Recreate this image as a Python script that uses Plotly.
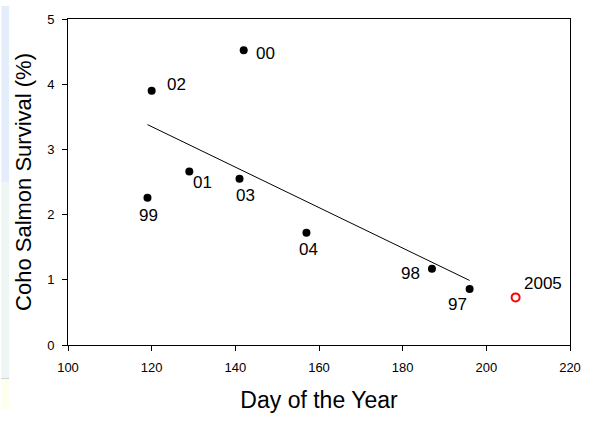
import plotly.graph_objects as go

# Data
labels = ["97", "98", "99", "00", "01", "02", "03", "04"]
day = [196, 187, 119, 142, 129, 120, 141, 157]
survival = [0.86, 1.17, 2.26, 4.52, 2.66, 3.90, 2.55, 1.72]

new_label = ["2005"]
new_day = [207]
new_survival = [0.73]

fit_day = [119, 196]
fit_survival = [3.38, 0.99]

x_ticks = [100, 120, 140, 160, 180, 200, 220]
y_ticks = [0, 1, 2, 3, 4, 5]

# label offsets in pixels (style)
label_shift = {
    "97": (-12, -16), "98": (-21, -5), "99": (1, -18), "00": (22, -3),
    "01": (13, -11), "02": (25, 6), "03": (6, -17), "04": (2, -17),
    "2005": (27, 14),
}

FONT = "Liberation Sans, Arial, sans-serif"

fig = go.Figure()
fig.add_trace(go.Scatter(x=fit_day, y=fit_survival, mode="lines",
                         line=dict(color="black", width=1), hoverinfo="skip",
                         showlegend=False))
fig.add_trace(go.Scatter(x=day, y=survival, mode="markers",
                         marker=dict(color="black", size=8),
                         showlegend=False))
fig.add_trace(go.Scatter(x=new_day, y=new_survival, mode="markers",
                         marker=dict(color="rgba(0,0,0,0)", size=8,
                                     line=dict(color="red", width=2)),
                         showlegend=False))

for lab, xv, yv in list(zip(labels, day, survival)) + list(zip(new_label, new_day, new_survival)):
    dx, dy = label_shift[lab]
    fig.add_annotation(x=xv, y=yv, text=lab, showarrow=False,
                       xshift=dx, yshift=dy,
                       font=dict(family=FONT, size=17, color="black"))

# background strip at left edge (slide background)
sx0, sx1 = -68 / 512, -60 / 512
fig.add_shape(type="rect", xref="paper", yref="paper", x0=sx0, x1=sx1,
              y0=0.50, y1=1.04, fillcolor="#e4eefa", line_width=0, layer="below")
fig.add_shape(type="rect", xref="paper", yref="paper", x0=sx0, x1=sx1,
              y0=-0.103, y1=0.50, fillcolor="#eef6f4", line_width=0, layer="below")
fig.add_shape(type="rect", xref="paper", yref="paper", x0=sx0, x1=sx1,
              y0=-0.2, y1=-0.103, fillcolor="#fffff0", line_width=0, layer="below")
fig.add_shape(type="line", xref="paper", yref="paper", x0=sx0, x1=sx1,
              y0=-0.103, y1=-0.103, line=dict(color="#d0d0d0", width=1), layer="below")

fig.update_layout(
    width=593, height=421,
    margin=dict(l=68, r=13, t=13, b=68),
    paper_bgcolor="white", plot_bgcolor="white",
    font=dict(family=FONT, color="black"),
    xaxis=dict(range=[100, 220], tickvals=x_ticks, ticks="outside", ticklen=5,
               tickwidth=1, tickcolor="black", showline=True, linecolor="black",
               linewidth=1, mirror=True, showgrid=False, zeroline=False,
               tickfont=dict(size=13), ticklabelstandoff=5,
               title=dict(text="Day of the Year", font=dict(size=23), standoff=18)),
    yaxis=dict(range=[0, 5], tickvals=y_ticks, ticks="outside", ticklen=5,
               tickwidth=1, tickcolor="black", showline=True, linecolor="black",
               linewidth=1, mirror=True, showgrid=False, zeroline=False,
               tickfont=dict(size=13), ticklabelstandoff=5,
               title=dict(text="Coho Salmon Survival (%)", font=dict(size=22), standoff=9)),
)

fig.write_html("out.html", config={"displayModeBar": False},
               post_script="document.body.style.margin='0';document.body.style.overflow='hidden';")
